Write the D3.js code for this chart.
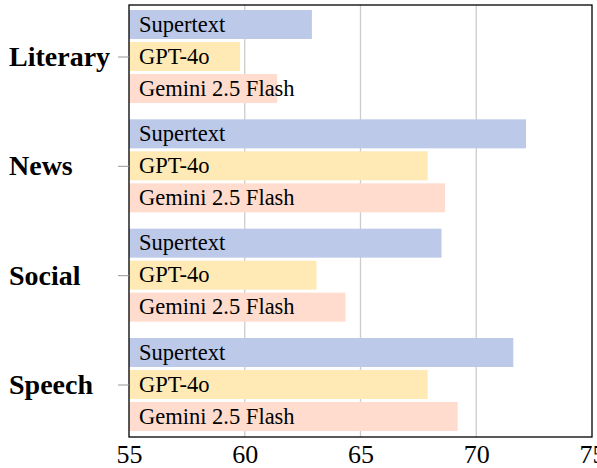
<!DOCTYPE html>
<html>
<head>
<meta charset="utf-8">
<script src="https://cdn.jsdelivr.net/npm/d3@7"></script>
<style>
  body { margin: 0; background: #fff; }
  text { font-family: "Liberation Serif", "Times New Roman", serif; }
</style>
</head>
<body>
<svg width="597" height="468"></svg>
<script>
var categories = ["Literary", "News", "Social", "Speech"];
var series = ["Supertext", "GPT-4o", "Gemini 2.5 Flash"];
// values per series, same order as categories
var supertext = [62.9, 72.15, 68.5, 71.6];
var gpt4o = [59.8, 67.9, 63.1, 67.9];
var gemini = [61.4, 68.65, 64.35, 69.2];
var xTicks = [55, 60, 65, 70, 75];

var colors = ["#bcc9e8", "#ffe9b5", "#ffdccd"];
var values = [supertext, gpt4o, gemini];

var svg = d3.select("svg");
var plotL = 129, plotR = 592, plotT = 5, plotB = 437;

var x = d3.scaleLinear().domain([55, 75]).range([plotL, plotR]);
var y = d3.scalePoint().domain(categories).range([56.5, 384.5]);
var sub = d3.scaleBand().domain(series).range([-46.5, 46.5]).paddingInner(3 / 32);

// grid
svg.append("g")
    .selectAll("line")
    .data(xTicks.slice(1, -1))
    .enter().append("line")
    .attr("x1", function(d) { return x(d); })
    .attr("x2", function(d) { return x(d); })
    .attr("y1", plotT)
    .attr("y2", plotB)
    .attr("stroke", "#cccccc")
    .attr("stroke-width", 1.3);

// bars
var rows = [];
categories.forEach(function(c, i) {
    series.forEach(function(s, j) {
        rows.push({cat: c, ser: s, val: values[j][i], col: colors[j]});
    });
});

var g = svg.append("g");
g.selectAll("rect")
    .data(rows)
    .enter().append("rect")
    .attr("x", x(55))
    .attr("y", function(d) { return y(d.cat) + sub(d.ser); })
    .attr("width", function(d) { return x(d.val) - x(55); })
    .attr("height", sub.bandwidth())
    .attr("fill", function(d) { return d.col; });

g.selectAll("text")
    .data(rows)
    .enter().append("text")
    .attr("x", x(55) + 10)
    .attr("y", function(d) { return y(d.cat) + sub(d.ser) + sub.bandwidth() / 2; })
    .attr("dy", "0.32em")
    .attr("font-size", 22.5)
    .attr("fill", "#000")
    .text(function(d) { return d.ser; });

// frame
svg.append("rect")
    .attr("x", plotL)
    .attr("y", plotT)
    .attr("width", plotR - plotL)
    .attr("height", plotB - plotT)
    .attr("fill", "none")
    .attr("stroke", "#000")
    .attr("stroke-width", 1.3);

// y axis
var yAxis = svg.append("g")
    .attr("transform", "translate(" + plotL + ",0)")
    .call(d3.axisLeft(y).tickSize(11));
yAxis.select(".domain").remove();
yAxis.selectAll(".tick line").attr("stroke", "#999").attr("stroke-width", 1);
yAxis.selectAll(".tick text")
    .attr("x", 9 - plotL)
    .attr("text-anchor", "start")
    .attr("font-family", "Liberation Serif, serif")
    .attr("font-size", 28)
    .attr("font-weight", "bold")
    .attr("fill", "#000")
    .attr("dy", "0.32em");

// x axis
var xAxis = svg.append("g")
    .attr("transform", "translate(0," + plotB + ")")
    .call(d3.axisBottom(x).tickValues(xTicks).tickSize(0));
xAxis.select(".domain").remove();
xAxis.selectAll(".tick text")
    .attr("y", 26)
    .attr("dy", 0)
    .attr("font-family", "Liberation Serif, serif")
    .attr("font-size", 26)
    .attr("fill", "#000");
</script>
</body>
</html>
